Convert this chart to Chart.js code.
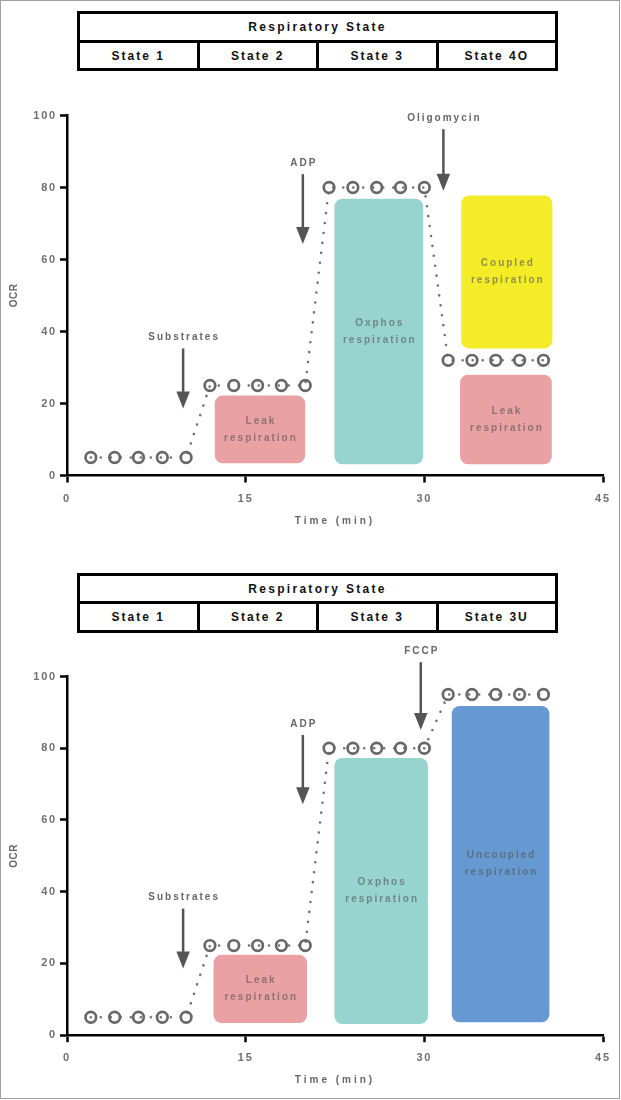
<!DOCTYPE html>
<html><head><meta charset="utf-8">
<script src="https://cdn.jsdelivr.net/npm/chart.js@4/dist/chart.umd.min.js"></script>
<style>
html,body{margin:0;padding:0;background:#fff;}
body{width:621px;height:1100px;position:relative;overflow:hidden;font-family:"Liberation Sans",Arial,sans-serif;}
#frame{position:absolute;left:0;top:0;width:620px;height:1099px;box-sizing:border-box;border:1.5px solid #a0a0a0;pointer-events:none;z-index:5}
.hdr{position:absolute;left:77px;width:481px;height:60px;box-sizing:border-box;border:3px solid #000;}
.hrow1{position:absolute;left:0;right:0;top:0;height:25.5px;line-height:26px;text-align:center;font-weight:bold;font-size:12px;letter-spacing:2.3px;color:#111;border-bottom:3px solid #000;}
.hrow2{position:absolute;left:0;right:0;top:28.5px;bottom:0;display:flex;}
.hcell{flex:1;text-align:center;line-height:26px;font-weight:bold;font-size:12px;letter-spacing:2px;color:#111;}
.hcell + .hcell{border-left:3px solid #000;}
canvas{position:absolute;left:0;}
</style>
</head><body>
<div id="frame"></div>
<script>
// ---------------- data ----------------
const timeMin = [2,4,6,8,10,12,14,16,18,20,22,24,26,28,30,32,34,36,38,40];
const ocrPanelA = [5,5,5,5,5,25,25,25,25,25,80,80,80,80,80,32,32,32,32,32];
const ocrPanelB = [5,5,5,5,5,25,25,25,25,25,80,80,80,80,80,95,95,95,95,95];
const xTickValues = [0,15,30,45];
const yTickValues = [0,20,40,60,80,100];
const headerTitle = 'Respiratory State';
const statesA = ['State 1','State 2','State 3','State 4O'];
const statesB = ['State 1','State 2','State 3','State 3U'];
const xAxisTitle = 'Time (min)';
const yAxisTitle = 'OCR';

// shaded regions (time range, OCR range)
const boxNamesA = [['Leak','respiration'],['Oxphos','respiration'],['Coupled','respiration'],['Leak','respiration']];
const boxStartA = [12.4, 22.45, 33.1, 33.0];
const boxEndA   = [20.0, 29.9, 40.75, 40.7];
const boxLowA   = [3.4, 3.1, 35.3, 3.1];
const boxHighA  = [22.2, 76.9, 77.8, 28.0];
const boxNamesB = [['Leak','respiration'],['Oxphos','respiration'],['Uncoupled','respiration']];
const boxStartB = [12.3, 22.45, 32.3];
const boxEndB   = [20.15, 30.3, 40.5];
const boxLowB   = [3.4, 3.1, 3.6];
const boxHighB  = [22.4, 77.3, 91.8];

// injections (time, arrow from OCR, arrow to OCR)
const arrowNamesA = ['Substrates','ADP','Oligomycin'];
const arrowTimeA  = [9.75, 19.8, 31.6];
const arrowFromA  = [35.3, 83.7, 96.2];
const arrowToA    = [18.6, 64.3, 79.1];
const arrowNamesB = ['Substrates','ADP','FCCP'];
const arrowTimeB  = [9.75, 19.8, 29.7];
const arrowFromB  = [35.3, 83.7, 104];
const arrowToB    = [18.6, 64.4, 85.1];

// ---------------- styles ----------------
const STYLE = {
  font: '"Liberation Sans", Arial, sans-serif',
  boxColorsA: ['#E9A1A3','#97D4CF','#F3EC26','#E9A1A3'],
  boxColorsB: ['#E9A1A3','#97D4CF','#6699D2'],
  boxText: 'rgba(85,85,85,0.62)',
  arrow: '#555555',
  arrowText: '#666666',
  marker: '#686868',
  line: '#707070',
  tick: '#707070'
};

function buildHeader(top, states){
  const h = document.createElement('div');
  h.className = 'hdr'; h.style.top = top + 'px';
  const r1 = document.createElement('div'); r1.className = 'hrow1'; r1.textContent = headerTitle;
  const r2 = document.createElement('div'); r2.className = 'hrow2';
  states.forEach(s => { const c = document.createElement('div'); c.className = 'hcell'; c.textContent = s; r2.appendChild(c); });
  h.appendChild(r1); h.appendChild(r2);
  document.body.appendChild(h);
}

function rr(ctx,x,y,w,h,r){ctx.beginPath();ctx.moveTo(x+r,y);ctx.arcTo(x+w,y,x+w,y+h,r);ctx.arcTo(x+w,y+h,x,y+h,r);ctx.arcTo(x,y+h,x,y,r);ctx.arcTo(x,y,x+w,y,r);ctx.closePath();}

function makeAnnot(boxes, arrows){
  return {
    id: 'annot',
    beforeDatasetsDraw(chart){
      const {ctx, scales:{x, y}} = chart;
      ctx.save();
      for (let i = 0; i < boxes.names.length; i++){
        const x0 = x.getPixelForValue(boxes.start[i]), x1 = x.getPixelForValue(boxes.end[i]);
        const y0 = y.getPixelForValue(boxes.high[i]), y1 = y.getPixelForValue(boxes.low[i]);
        ctx.fillStyle = boxes.colors[i];
        rr(ctx, x0, y0, x1 - x0, y1 - y0, 8);
        ctx.fill();
        ctx.fillStyle = STYLE.boxText;
        ctx.font = 'bold 10px ' + STYLE.font;
        ctx.letterSpacing = '2px';
        ctx.textAlign = 'center'; ctx.textBaseline = 'middle';
        const cx = (x0 + x1) / 2 + 1, cy = (y0 + y1) / 2;
        const lines = boxes.names[i];
        lines.forEach((t, k) => ctx.fillText(t, cx, cy + (k - (lines.length - 1) / 2) * 17));
      }
      ctx.restore();
    },
    afterDatasetsDraw(chart){
      const {ctx, scales:{x, y}} = chart;
      ctx.save();
      for (let i = 0; i < arrows.names.length; i++){
        const px = x.getPixelForValue(arrows.time[i]);
        const pTop = y.getPixelForValue(arrows.from[i]);
        const pTip = y.getPixelForValue(arrows.to[i]);
        const headH = 17, headW = 13.5;
        ctx.strokeStyle = STYLE.arrow; ctx.lineWidth = 2.5;
        ctx.beginPath(); ctx.moveTo(px, pTop); ctx.lineTo(px, pTip - headH + 1); ctx.stroke();
        ctx.fillStyle = STYLE.arrow;
        ctx.beginPath(); ctx.moveTo(px - headW/2, pTip - headH); ctx.lineTo(px + headW/2, pTip - headH); ctx.lineTo(px, pTip); ctx.closePath(); ctx.fill();
        ctx.fillStyle = STYLE.arrowText;
        ctx.font = 'bold 10px ' + STYLE.font;
        ctx.letterSpacing = '2px';
        ctx.textAlign = 'center'; ctx.textBaseline = 'middle';
        ctx.fillText(arrows.names[i], px + 1, pTop - 11);
      }
      ctx.restore();
    }
  };
}

const spacingPlugin = {
  id: 'spacing',
  beforeDraw(chart){
    chart.ctx.letterSpacing = '1.8px';
    Object.values(chart.scales).forEach(s => {
      if (s._wrappedTitle) return;
      const orig = s.drawTitle;
      s.drawTitle = function(){
        const c = this.ctx; const prev = c.letterSpacing;
        c.letterSpacing = this.axis === 'x' ? '3px' : '0.5px';
        orig.call(this);
        c.letterSpacing = prev;
      };
      s._wrappedTitle = true;
    });
  }
};

function makeChart(top, height, padTop, padBottom, ocr, boxes, arrows){
  const cv = document.createElement('canvas');
  cv.width = 621; cv.height = height;
  cv.style.top = top + 'px'; cv.style.width = '621px'; cv.style.height = height + 'px';
  document.body.appendChild(cv);
  const tickFont = {family: STYLE.font, size: 11, weight: 'bold'};
  return new Chart(cv.getContext('2d'), {
    type: 'line',
    data: {
      datasets: [{
        data: timeMin.map((t, i) => ({x: t, y: ocr[i]})),
        borderColor: STYLE.line,
        borderWidth: 2.6,
        borderDash: [0.001, 10],
        borderCapStyle: 'round',
        tension: 0,
        fill: false,
        pointStyle: 'circle',
        pointRadius: 5.3,
        pointBorderWidth: 2.7,
        pointBorderColor: STYLE.marker,
        pointBackgroundColor: 'rgba(255,255,255,0)'
      }]
    },
    options: {
      responsive: false,
      animation: false,
      devicePixelRatio: 1,
      layout: {padding: {left: 3, right: 18, top: padTop, bottom: padBottom}},
      plugins: {legend: {display: false}, tooltip: {enabled: false}},
      scales: {
        x: {
          type: 'linear', min: 0, max: 45,
          afterBuildTicks: s => { s.ticks = xTickValues.map(v => ({value: v})); },
          afterFit: s => { s.height = 51.5; },
          ticks: {color: STYLE.tick, font: tickFont, padding: 9.5, maxRotation: 0, autoSkip: false},
          grid: {drawOnChartArea: false, drawTicks: true, tickLength: 7, tickWidth: 2.5, tickColor: '#000'},
          border: {display: true, color: '#000', width: 2.5},
          title: {display: true, text: xAxisTitle, color: '#666', font: {family: STYLE.font, size: 10, weight: 'bold'}, padding: {top: 0, bottom: 0}}
        },
        y: {
          type: 'linear', min: 0, max: 100,
          afterBuildTicks: s => { s.ticks = yTickValues.map(v => ({value: v})); },
          afterFit: s => { s.width = 64; },
          ticks: {color: STYLE.tick, font: tickFont, padding: 3, autoSkip: false},
          grid: {drawOnChartArea: false, drawTicks: true, tickLength: 7, tickWidth: 2.5, tickColor: '#000'},
          border: {display: true, color: '#000', width: 2.5},
          title: {display: true, text: yAxisTitle, color: '#666', font: {family: STYLE.font, size: 10, weight: 'bold'}, padding: {top: 5, bottom: 0}}
        }
      }
    },
    plugins: [spacingPlugin, makeAnnot(boxes, arrows)]
  });
}

buildHeader(11, statesA);
buildHeader(572.5, statesB);

makeChart(80, 470, 35.5, 23,
  ocrPanelA,
  {names: boxNamesA, start: boxStartA, end: boxEndA, low: boxLowA, high: boxHighA, colors: STYLE.boxColorsA},
  {names: arrowNamesA, time: arrowTimeA, from: arrowFromA, to: arrowToA});

makeChart(640, 460, 36.5, 13.3,
  ocrPanelB,
  {names: boxNamesB, start: boxStartB, end: boxEndB, low: boxLowB, high: boxHighB, colors: STYLE.boxColorsB},
  {names: arrowNamesB, time: arrowTimeB, from: arrowFromB, to: arrowToB});
</script>
</body></html>
